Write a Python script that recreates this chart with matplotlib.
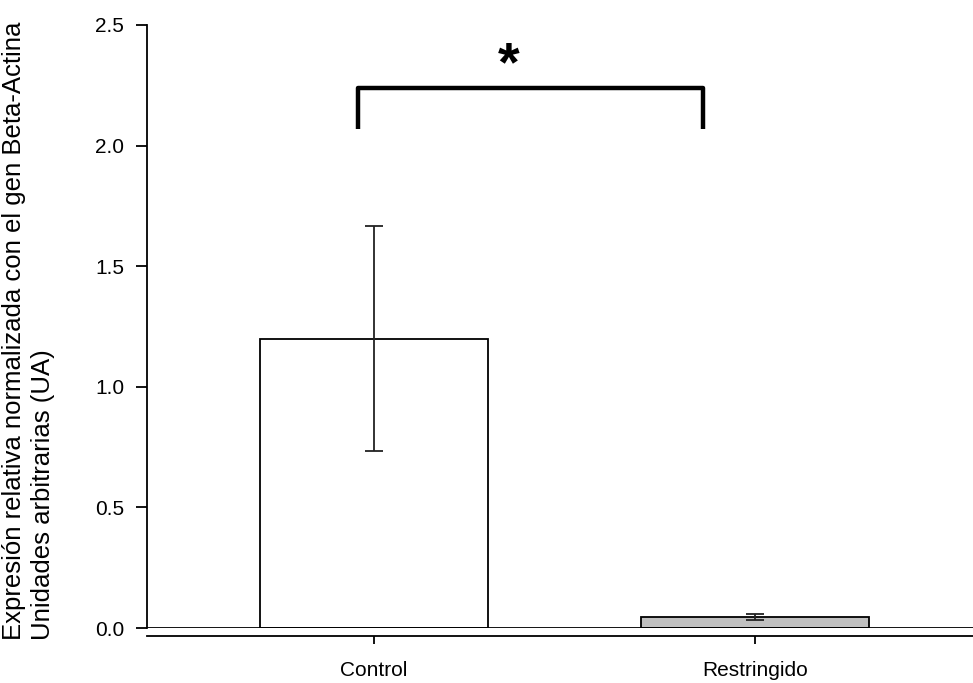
import matplotlib
matplotlib.use("Agg")
import matplotlib.pyplot as plt

## Data ##
groups = ["Control", "Restringido"]
means = [1.20, 0.045]
errors = [0.465, 0.013]
bar_colors = ["white", "#c0c0c0"]
y_ticks = [0.0, 0.5, 1.0, 1.5, 2.0, 2.5]

plt.rcParams["font.family"] = ["Liberation Sans", "DejaVu Sans"]

fig = plt.figure(figsize=(9.73, 6.83), dpi=100)
ax = fig.add_axes([147 / 973, 1 - 628 / 683, 1 - 147 / 973, (628 - 25) / 683])

## Bars with error bars ##
x = list(range(len(groups)))
ax.bar(x, means, width=0.6, color=bar_colors, edgecolor="black", linewidth=1.3, zorder=2)
ax.errorbar(x, means, yerr=errors, fmt="none", ecolor="#222222", elinewidth=1.3,
            capsize=6.5, capthick=1.3, zorder=3)

## Zero line and axes ##
ax.axhline(0, color="black", linewidth=1.3, zorder=4)
ax.set_xlim(-0.596, 1.572)
ax.set_ylim(0, 2.5)
ax.set_yticks(y_ticks)
ax.set_yticklabels([f"{v:.1f}" for v in y_ticks])
ax.set_xticks(x)
ax.set_xticklabels(groups)
ax.spines["top"].set_visible(False)
ax.spines["right"].set_visible(False)
ax.spines["bottom"].set_position(("outward", 6))
ax.spines["left"].set_linewidth(1.3)
ax.spines["bottom"].set_linewidth(1.3)
ax.tick_params(axis="y", length=8, width=1.3, labelsize=15, pad=8.5, colors="black")
ax.tick_params(axis="x", length=6, width=1.3, labelsize=15, pad=12, colors="black")

## Y label, placed on the figure so it can hug the left edge ##
fig.text(2 / 973, 1 - 640 / 683,
         "Expresión relativa normalizada con el gen Beta-Actina\nUnidades arbitrarias (UA)",
         rotation=90, ha="left", va="bottom", multialignment="left",
         fontsize=18.5, linespacing=1.28)

## Significance bracket ##
ax.plot([-0.042, -0.042, 0.864, 0.864], [2.069, 2.239, 2.239, 2.069],
        color="black", linewidth=3.2, solid_capstyle="butt", clip_on=False)
ax.text(0.352, 2.33, "*", fontsize=40, fontweight="bold", ha="center", va="center")

plt.savefig("out.png", dpi=100)
